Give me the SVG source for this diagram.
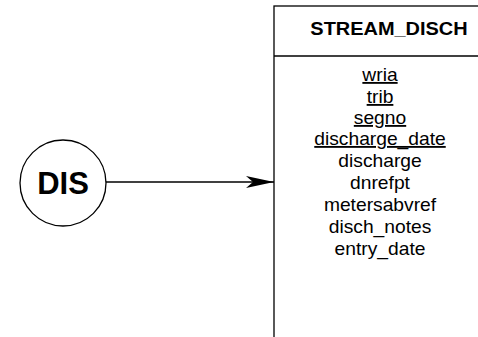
<svg xmlns="http://www.w3.org/2000/svg" width="478" height="337" viewBox="0 0 478 337">
  <style>
    .shape { fill: #fff; stroke: #000; stroke-width: 1.3; }
    .line { stroke: #000; stroke-width: 1.3; fill: none; }
    .head { font-family: "Liberation Sans", Arial, sans-serif; font-size: 19px; font-weight: bold; text-anchor: middle; fill: #000; }
    .attr { font-family: "Liberation Sans", Arial, sans-serif; font-size: 18.5px; text-anchor: middle; fill: #000; }
    .key { text-decoration: underline; }
    .label { font-family: "Liberation Sans", Arial, sans-serif; font-size: 31px; font-weight: bold; text-anchor: middle; fill: #000; }
  </style>
  <defs>
    <marker id="arrow" markerWidth="28" markerHeight="14" refX="28" refY="7" orient="auto" markerUnits="userSpaceOnUse">
      <path d="M0,1 L28,7 L0,13 L7,7 Z" fill="#000"/>
    </marker>
  </defs>
  <rect width="478" height="337" fill="#fff"/>

  <g id="connectors">
    <line class="line" x1="105" y1="182" x2="274" y2="182" marker-end="url(#arrow)"/>
  </g>

  <g id="DIS">
    <circle class="shape" cx="63" cy="183" r="43"/>
    <text class="label" x="63" y="194">DIS</text>
  </g>

  <g id="STREAM_DISCH">
    <rect class="shape" x="274" y="6" width="260" height="360"/>
    <line class="line" x1="274" y1="56" x2="478" y2="56"/>
    <text class="head" transform="translate(389,35) scale(1.05,1)">STREAM_DISCH</text>
    <g transform="translate(380,0) scale(1.04,1)">
      <text class="attr key" x="0" y="81">wria</text>
      <text class="attr key" x="0" y="103">trib</text>
      <text class="attr key" x="0" y="124">segno</text>
      <text class="attr key" x="0" y="145">discharge_date</text>
      <text class="attr" x="0" y="167">discharge</text>
      <text class="attr" x="0" y="189">dnrefpt</text>
      <text class="attr" x="0" y="211">metersabvref</text>
      <text class="attr" x="0" y="233">disch_notes</text>
      <text class="attr" x="0" y="255">entry_date</text>
    </g>
  </g>
</svg>
